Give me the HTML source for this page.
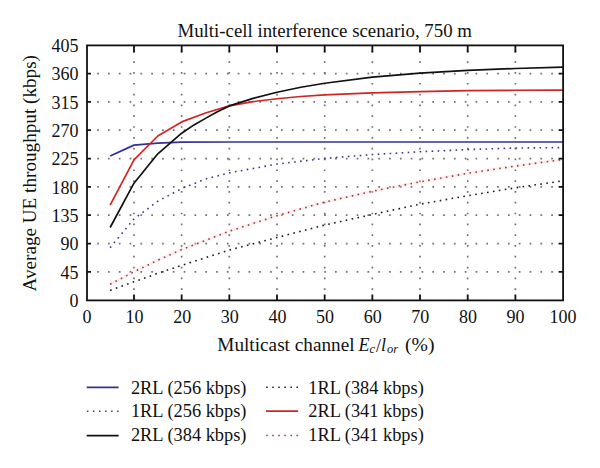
<!DOCTYPE html><html><head><meta charset="utf-8"><style>html,body{margin:0;padding:0;background:#fff;}svg{display:block;}text{font-family:"Liberation Serif",serif;fill:#111;}</style></head><body>
<svg width="600" height="468" viewBox="0 0 600 468">
<rect width="600" height="468" fill="#fff"/>
<path d="M133.97,290.00 V45.40 M181.65,290.00 V45.40 M229.32,290.00 V45.40 M277.00,290.00 V45.40 M324.68,290.00 V45.40 M372.35,290.00 V45.40 M420.03,290.00 V45.40 M467.70,290.00 V45.40 M515.38,290.00 V45.40 M97.20,271.87 H563.10 M97.20,243.54 H563.10 M97.20,215.20 H563.10 M97.20,186.87 H563.10 M97.20,158.54 H563.10 M97.20,130.21 H563.10 M97.20,101.88 H563.10 M97.20,73.54 H563.10" stroke="#727272" stroke-width="1.7" stroke-dasharray="1.7 9.11" fill="none"/>
<g fill="none" stroke-linejoin="round">
<path d="M110.14,284.21 L133.97,271.81 L157.81,260.22 L181.65,249.58 L229.32,231.20 L277.00,215.71 L324.68,202.11 L372.35,191.28 L420.03,181.84 L467.70,173.34 L515.38,166.10 L563.05,159.48" stroke="#f8d0d0" stroke-width="3" opacity="0.35"/>
<path d="M110.14,290.38 L133.97,281.82 L157.81,273.25 L181.65,265.38 L229.32,250.08 L277.00,237.49 L324.68,225.03 L372.35,214.51 L420.03,204.19 L467.70,195.69 L515.38,187.82 L563.05,180.83" stroke="#1a1a1a" stroke-width="1.6" stroke-dasharray="1.6 4.4"/>
<path d="M110.14,284.21 L133.97,271.81 L157.81,260.22 L181.65,249.58 L229.32,231.20 L277.00,215.71 L324.68,202.11 L372.35,191.28 L420.03,181.84 L467.70,173.34 L515.38,166.10 L563.05,159.48" stroke="#a8363c" stroke-width="1.6" stroke-dasharray="1.6 4.4"/>
<path d="M110.14,247.69 L133.97,218.92 L157.81,201.23 L181.65,188.57 L205.49,179.06 L229.32,172.83 L277.00,164.08 L324.68,158.41 L372.35,154.57 L420.03,151.74 L467.70,149.60 L515.38,148.03 L563.05,147.58" stroke="#383894" stroke-width="1.6" stroke-dasharray="1.6 4.4"/>
<path d="M110.14,156.02 L133.97,145.13 L157.81,143.18 L181.65,142.11 L229.32,141.98 L563.05,141.98" stroke="#323296" stroke-width="1.7"/>
<path d="M110.14,205.19 L133.97,159.80 L157.81,136.00 L181.65,121.90 L205.49,113.02 L229.32,105.91 L253.16,101.62 L277.00,98.73 L300.84,96.52 L324.68,94.95 L372.35,92.94 L420.03,91.61 L467.70,90.67 L515.38,90.23 L563.05,90.10" stroke="#d22424" stroke-width="1.7"/>
<path d="M110.14,227.48 L133.97,183.22 L157.81,153.82 L181.65,133.23 L193.57,125.17 L205.49,118.37 L217.41,111.82 L229.32,105.91 L253.16,98.41 L277.00,92.24 L300.84,87.27 L324.68,83.24 L372.35,77.20 L420.03,73.04 L467.70,70.40 L515.38,68.51 L563.05,67.12" stroke="#111" stroke-width="1.7"/>
</g>
<path d="M133.97,300.40 V294.40 M133.97,45.40 V52.40 M181.65,300.40 V294.40 M181.65,45.40 V52.40 M229.32,300.40 V294.40 M229.32,45.40 V52.40 M277.00,300.40 V294.40 M277.00,45.40 V52.40 M324.68,300.40 V294.40 M324.68,45.40 V52.40 M372.35,300.40 V294.40 M372.35,45.40 V52.40 M420.03,300.40 V294.40 M420.03,45.40 V52.40 M467.70,300.40 V294.40 M467.70,45.40 V52.40 M515.38,300.40 V294.40 M515.38,45.40 V52.40 M87.00,271.87 H91.00 M563.10,271.87 H558.60 M87.00,243.54 H91.00 M563.10,243.54 H558.60 M87.00,215.20 H91.00 M563.10,215.20 H558.60 M87.00,186.87 H91.00 M563.10,186.87 H558.60 M87.00,158.54 H91.00 M563.10,158.54 H558.60 M87.00,130.21 H91.00 M563.10,130.21 H558.60 M87.00,101.88 H91.00 M563.10,101.88 H558.60 M87.00,73.54 H91.00 M563.10,73.54 H558.60" stroke="#111" stroke-width="1.8" fill="none"/>
<rect x="87.00" y="45.40" width="476.10" height="255.00" stroke="#111" stroke-width="1.8" fill="none"/>
<text x="177.4" y="36.5" font-size="18" textLength="294.6" lengthAdjust="spacingAndGlyphs">Multi-cell interference scenario, 750 m</text>
<text x="78.6" y="306.90" font-size="18" text-anchor="end">0</text>
<text x="78.6" y="278.57" font-size="18" text-anchor="end">45</text>
<text x="78.6" y="250.24" font-size="18" text-anchor="end">90</text>
<text x="78.6" y="221.90" font-size="18" text-anchor="end">135</text>
<text x="78.6" y="193.57" font-size="18" text-anchor="end">180</text>
<text x="78.6" y="165.24" font-size="18" text-anchor="end">225</text>
<text x="78.6" y="136.91" font-size="18" text-anchor="end">270</text>
<text x="78.6" y="108.58" font-size="18" text-anchor="end">315</text>
<text x="78.6" y="80.24" font-size="18" text-anchor="end">360</text>
<text x="78.6" y="51.91" font-size="18" text-anchor="end">405</text>
<text x="87.00" y="322.6" font-size="18" text-anchor="middle">0</text>
<text x="134.61" y="322.6" font-size="18" text-anchor="middle">10</text>
<text x="182.22" y="322.6" font-size="18" text-anchor="middle">20</text>
<text x="229.83" y="322.6" font-size="18" text-anchor="middle">30</text>
<text x="277.44" y="322.6" font-size="18" text-anchor="middle">40</text>
<text x="325.05" y="322.6" font-size="18" text-anchor="middle">50</text>
<text x="372.66" y="322.6" font-size="18" text-anchor="middle">60</text>
<text x="420.27" y="322.6" font-size="18" text-anchor="middle">70</text>
<text x="467.88" y="322.6" font-size="18" text-anchor="middle">80</text>
<text x="515.49" y="322.6" font-size="18" text-anchor="middle">90</text>
<text x="563.10" y="322.6" font-size="18" text-anchor="middle">100</text>
<text transform="translate(35.5,291.5) rotate(-90)" x="0" y="0" font-size="18" textLength="236.5" lengthAdjust="spacingAndGlyphs">Average UE throughput (kbps)</text>
<text x="217.3" y="350.6" font-size="18" textLength="137.3" lengthAdjust="spacingAndGlyphs">Multicast channel</text>
<text x="358.6" y="350.6" font-size="18" font-style="italic">E</text>
<text x="369.6" y="353.2" font-size="12.5" font-style="italic">c</text>
<text x="375.9" y="351.8" font-size="18">/</text>
<text x="381.1" y="350.6" font-size="18" font-style="italic">l</text>
<text x="387.0" y="353.2" font-size="12.5" font-style="italic">or</text>
<text x="405.0" y="350.6" font-size="18" textLength="29.5" lengthAdjust="spacingAndGlyphs">(%)</text>
<path d="M86.70,387.30 H118.60" stroke="#323296" stroke-width="1.7" fill="none"/>
<text x="130.90" y="393.90" font-size="18" textLength="115.60" lengthAdjust="spacingAndGlyphs">2RL (256 kbps)</text>
<path d="M86.90,411.20 H118.60" stroke="#383894" stroke-width="1.5" stroke-dasharray="1.5 4.55" fill="none"/>
<text x="130.90" y="417.40" font-size="18" textLength="115.60" lengthAdjust="spacingAndGlyphs">1RL (256 kbps)</text>
<path d="M86.70,435.60 H118.60" stroke="#111" stroke-width="1.7" fill="none"/>
<text x="130.90" y="441.00" font-size="18" textLength="115.60" lengthAdjust="spacingAndGlyphs">2RL (384 kbps)</text>
<path d="M266.20,387.30 H298.20" stroke="#1a1a1a" stroke-width="1.5" stroke-dasharray="1.5 4.55" fill="none"/>
<text x="308.30" y="393.90" font-size="18" textLength="115.50" lengthAdjust="spacingAndGlyphs">1RL (384 kbps)</text>
<path d="M266.00,411.20 H298.20" stroke="#d22424" stroke-width="1.7" fill="none"/>
<text x="308.30" y="417.40" font-size="18" textLength="115.50" lengthAdjust="spacingAndGlyphs">2RL (341 kbps)</text>
<path d="M266.20,435.60 H298.20" stroke="#a8363c" stroke-width="1.5" stroke-dasharray="1.5 4.55" fill="none"/>
<text x="308.30" y="441.00" font-size="18" textLength="115.50" lengthAdjust="spacingAndGlyphs">1RL (341 kbps)</text>
</svg></body></html>
